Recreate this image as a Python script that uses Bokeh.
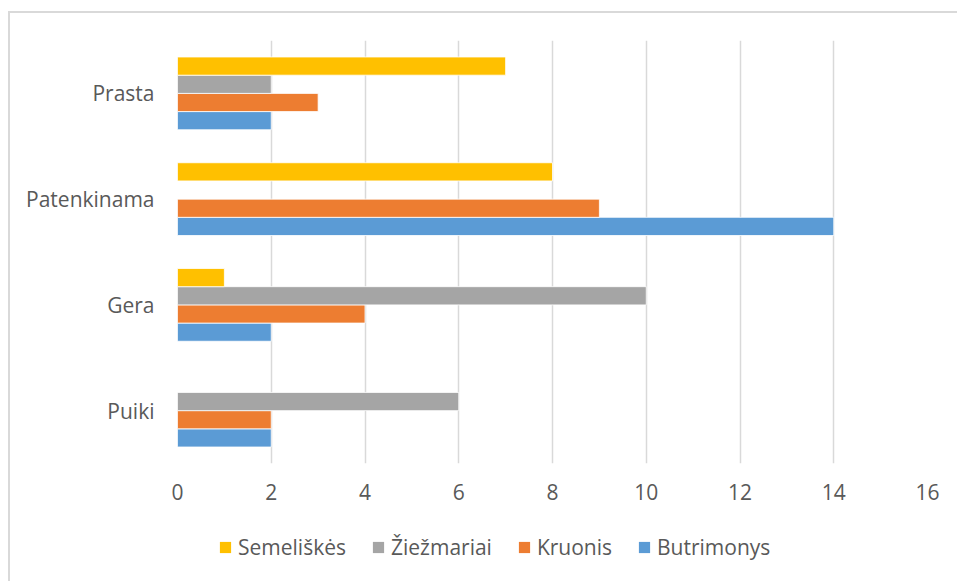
from bokeh.plotting import figure
from bokeh.layouts import column
from bokeh.models import ColumnDataSource, FactorRange, Legend, LegendItem, FixedTicker
from bokeh.transform import dodge
from bokeh.embed import file_html
from bokeh.resources import INLINE

categories = ["Puiki", "Gera", "Patenkinama", "Prasta"]
series = ["Butrimonys", "Kruonis", "Žiežmariai", "Semeliškės"]
butrimonys = [2, 2, 14, 2]
kruonis = [2, 4, 9, 3]
ziezmariai = [6, 10, 0, 2]
semeliskes = [0, 1, 8, 7]
x_ticks = [0, 2, 4, 6, 8, 10, 12, 14, 16]

colors = ["#5B9BD5", "#ED7D31", "#A5A5A5", "#FFC000"]
offsets = [-0.258, -0.086, 0.086, 0.258]

src = ColumnDataSource(dict(cat=categories, Butrimonys=butrimonys, Kruonis=kruonis,
                            Ziezmariai=ziezmariai, Semeliskes=semeliskes))
cols = ["Butrimonys", "Kruonis", "Ziezmariai", "Semeliskes"]

FONT = "Open Sans"
TXT = "#595959"

# main chart
p = figure(width=947, height=510, output_backend="svg", toolbar_location=None,
           y_range=FactorRange(factors=categories, range_padding=0), x_range=(0, 16),
           min_border_left=167, min_border_right=30, min_border_top=27, min_border_bottom=60)

for col, c, off in zip(cols, colors, offsets):
    p.hbar(y=dodge("cat", off, range=p.y_range), right=col, left=0, height=0.172,
           source=src, fill_color=c, line_color="white", line_width=0.8)

p.outline_line_color = None
p.ygrid.grid_line_color = None
p.xgrid.grid_line_color = "#D9D9D9"
p.xgrid.grid_line_width = 1.5
p.xaxis.ticker = FixedTicker(ticks=x_ticks)
for ax in (p.xaxis[0], p.yaxis[0]):
    ax.axis_line_color = None
    ax.major_tick_line_color = None
    ax.minor_tick_line_color = None
    ax.major_tick_out = 0
    ax.major_tick_in = 0
    ax.minor_tick_out = 0
    ax.major_label_text_font = FONT
    ax.major_label_text_font_size = "21px"
    ax.major_label_text_color = TXT
p.xaxis.major_label_standoff = 20
p.yaxis.major_label_standoff = 23
p.background_fill_color = "white"
p.border_fill_color = "white"

# legend strip below the chart (its frame is aligned with the main frame by the column)
pl = figure(width=947, height=58, output_backend="svg", toolbar_location=None,
            x_axis_location=None, y_axis_location=None, min_border=0,
            x_range=(0, 16), y_range=FactorRange(factors=categories, range_padding=0))
pl.outline_line_color = None
pl.xgrid.grid_line_color = None
pl.ygrid.grid_line_color = None
pl.background_fill_color = "white"
pl.border_fill_color = "white"

leg_renderers = []
for col, c, off in zip(cols, colors, offsets):
    r = pl.hbar(y=dodge("cat", off, range=pl.y_range), right=col, left=0, height=0.172,
                source=src, fill_color=c, line_color=None, visible=False)
    leg_renderers.append(r)

items = [LegendItem(label=s, renderers=[r]) for s, r in zip(series, leg_renderers)][::-1]
legend = Legend(items=items, orientation="horizontal", location=(41, 20),
                glyph_width=14, glyph_height=14, label_standoff=6, spacing=25,
                padding=0, margin=0, inactive_fill_alpha=0,
                label_text_font=FONT, label_text_font_size="21px", label_text_color=TXT,
                border_line_color=None, background_fill_alpha=0)
pl.add_layout(legend, "center")

layout = column(p, pl, spacing=0)
layout.styles = {"margin-left": "8px", "margin-top": "11px",
                 "border-left": "2px solid #D9D9D9", "border-top": "2px solid #D9D9D9"}

open("out.html", "w").write(file_html(layout, INLINE))
